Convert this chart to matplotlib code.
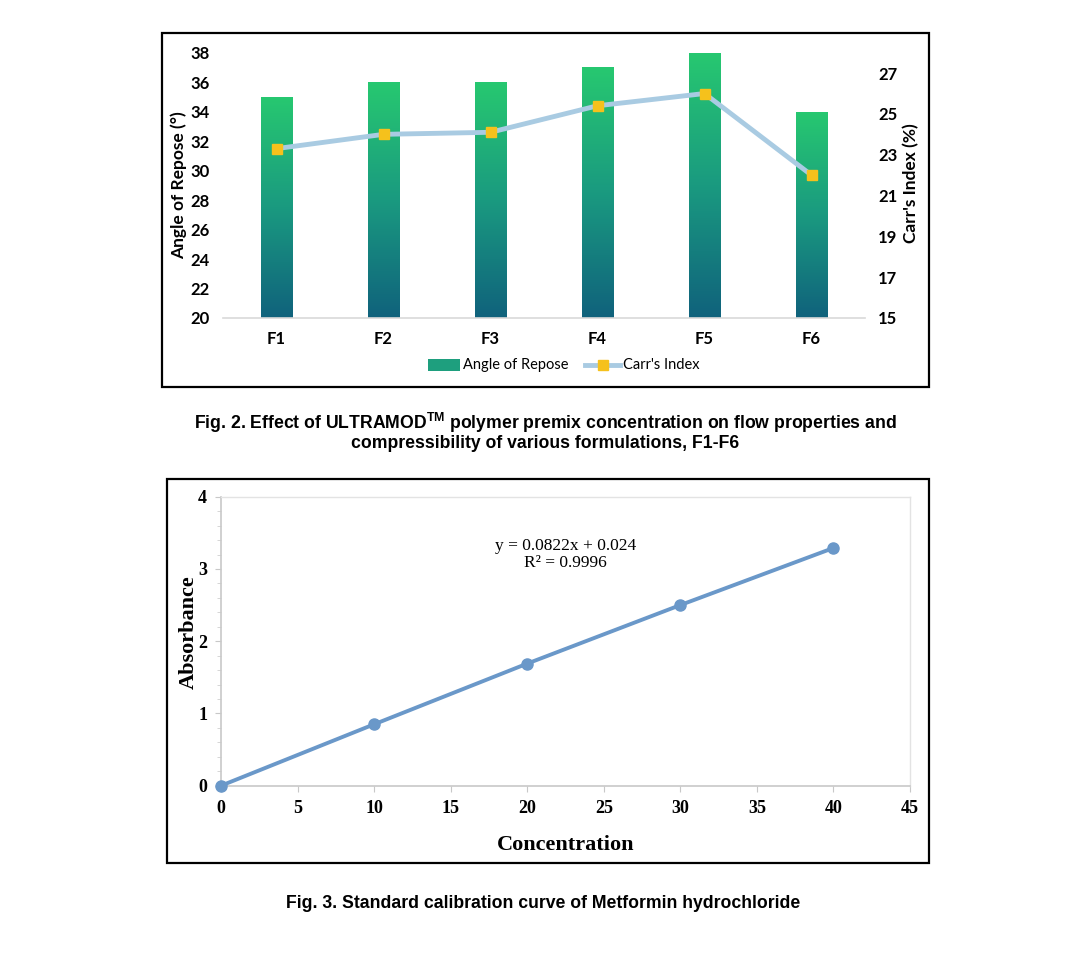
import matplotlib
matplotlib.use("Agg")
import matplotlib.pyplot as plt
import numpy as np
from matplotlib.patches import Rectangle
from matplotlib.lines import Line2D
from matplotlib.colors import LinearSegmentedColormap
from matplotlib.ticker import MultipleLocator

# ---------------- data ----------------
formulations = ["F1", "F2", "F3", "F4", "F5", "F6"]
angle_of_repose = [35, 36, 36, 37, 38, 34]
carrs_index = [23.3, 24.0, 24.1, 25.4, 26.0, 22.0]
left_ticks = [20, 22, 24, 26, 28, 30, 32, 34, 36, 38]
right_ticks = [15, 17, 19, 21, 23, 25, 27]

concentration = [0, 10, 20, 30, 40]
absorbance = [0.0, 0.85, 1.69, 2.50, 3.29]
x_ticks = [0, 5, 10, 15, 20, 25, 30, 35, 40, 45]
y_ticks = [0, 1, 2, 3, 4]

W, H = 1079, 976
fig = plt.figure(figsize=(W / 100, H / 100), dpi=100)

def fx(px):
    return px / W

def fy(py):
    return 1 - py / H

# frames
fig.add_artist(Rectangle((fx(162), fy(387)), fx(929) - fx(162), fy(33) - fy(387),
                         transform=fig.transFigure, fill=False, lw=1.6, ec="black"))
fig.add_artist(Rectangle((fx(167), fy(863)), fx(929) - fx(167), fy(479) - fy(863),
                         transform=fig.transFigure, fill=False, lw=1.6, ec="black"))

# ---------------- Fig 2 ----------------
sans = ["Lato", "DejaVu Sans"]
ax = fig.add_axes([fx(223), fy(318), fx(865) - fx(223), fy(52.7) - fy(318)])
x = np.arange(len(formulations))
bars = ax.bar(x, angle_of_repose, width=0.29, color="none", edgecolor="none", zorder=2)
cmap = LinearSegmentedColormap.from_list("g", ["#10627C", "#1A9A80", "#27C870"])
grad = np.linspace(0, 1, 256).reshape(-1, 1)
for b in bars:
    x0 = b.get_x()
    x1 = x0 + b.get_width()
    y1 = b.get_height()
    im = ax.imshow(grad, cmap=cmap, origin="lower", aspect="auto",
                   extent=[x0, x1, left_ticks[0], y1], zorder=2)
    im.set_clip_path(b)
ax.set_xlim(-0.5, len(formulations) - 0.5)
ax.set_ylim(left_ticks[0], left_ticks[-1])
ax.set_yticks(left_ticks)
ax.set_xticks(x)
ax.set_xticklabels(formulations)
for s in ["top", "right", "left"]:
    ax.spines[s].set_visible(False)
ax.spines["bottom"].set_color("#D9D9D9")
ax.spines["bottom"].set_linewidth(1.2)
ax.tick_params(axis="both", length=0, labelsize=12)
ax.tick_params(axis="x", pad=9)
ax.tick_params(axis="y", pad=9.5)
for lab in ax.get_xticklabels() + ax.get_yticklabels():
    lab.set_family(sans)
    lab.set_fontweight("bold")
ax.set_ylabel("Angle of Repose (°)", fontsize=12.5, fontweight="bold", family=sans)
ax.yaxis.set_label_coords((187 - 223) / 642, 0.5)

ax2 = ax.twinx()
ax2.plot(x, carrs_index, color="#A9CBE2", lw=3.5, marker="s", markersize=7,
         markerfacecolor="#F5C11C", markeredgecolor="#F5C11C", zorder=3)
ax2.set_ylim(15, 28)
ax2.set_yticks(right_ticks)
for s in ["top", "right", "left", "bottom"]:
    ax2.spines[s].set_visible(False)
ax2.tick_params(axis="y", length=0, labelsize=12, pad=9.4)
for lab in ax2.get_yticklabels():
    lab.set_family(sans)
    lab.set_fontweight("bold")
ax2.set_ylabel("Carr's Index (%)", fontsize=12.5, fontweight="bold", family=sans)
ax2.yaxis.set_label_coords((903 - 223) / 642, 0.51)

# legend
lx = fx(428)
ly = fy(365)
fig.add_artist(Rectangle((lx, ly - 0.006), fx(32), 0.012, transform=fig.transFigure,
                         facecolor="#1E9F7E", edgecolor="none"))
fig.text(fx(463), ly, "Angle of Repose", fontsize=10.5, family=sans, va="center", ha="left")
fig.add_artist(Line2D([fx(585), fx(620)], [ly, ly], transform=fig.transFigure,
                      color="#A9CBE2", lw=3.5))
fig.add_artist(Line2D([fx(602.5)], [ly], transform=fig.transFigure, marker="s",
                      markersize=7, color="#F5C11C"))
fig.text(fx(623), ly, "Carr's Index", fontsize=10.5, family=sans, va="center", ha="left")

cap_font = ["Liberation Sans", "DejaVu Sans"]
fig.text(fx(545), fy(423), "Fig. 2. Effect of ULTRAMOD$^{\\mathregular{TM}}$ polymer premix concentration on flow properties and",
         ha="center", va="center", fontsize=12.7, fontweight="bold", family=cap_font)
fig.text(fx(545), fy(443), "compressibility of various formulations, F1-F6",
         ha="center", va="center", fontsize=12.7, fontweight="bold", family=cap_font)

# ---------------- Fig 3 ----------------
serif = ["Liberation Serif", "DejaVu Serif"]
bx = fig.add_axes([fx(221), fy(785.7), fx(910) - fx(221), fy(496.7) - fy(785.7)])
bx.plot(concentration, absorbance, color="#6A98C9", lw=2.8, marker="o", markersize=8,
        markerfacecolor="#6A98C9", markeredgecolor="#6A98C9", clip_on=False, zorder=3)
bx.set_xlim(x_ticks[0], x_ticks[-1])
bx.set_ylim(y_ticks[0], y_ticks[-1])
bx.set_xticks(x_ticks)
bx.set_yticks(y_ticks)
bx.yaxis.set_minor_locator(MultipleLocator(0.2))
for s in ["top", "right"]:
    bx.spines[s].set_color("#E3E3E3")
    bx.spines[s].set_linewidth(1.0)
for s in ["left", "bottom"]:
    bx.spines[s].set_color("#C8C8C8")
    bx.spines[s].set_linewidth(1.2)
bx.tick_params(axis="both", which="major", length=4, color="#C8C8C8", labelsize=13, pad=6)
bx.tick_params(axis="y", which="minor", length=3, color="#D0D0D0")
for lab in bx.get_xticklabels() + bx.get_yticklabels():
    lab.set_family(serif)
    lab.set_fontweight("bold")
bx.set_xlabel("Concentration", fontsize=16, fontweight="bold", family=serif, labelpad=13)
bx.set_ylabel("Absorbance", fontsize=16, fontweight="bold", family=serif)
bx.yaxis.set_label_coords((199 - 221) / 689, 0.53)
bx.text(0.5, 0.80, "y = 0.0822x + 0.024\nR² = 0.9996", transform=bx.transAxes,
        ha="center", va="center", fontsize=12.5, family=serif, linespacing=1.1)

fig.text(fx(543), fy(903), "Fig. 3. Standard calibration curve of Metformin hydrochloride",
         ha="center", va="center", fontsize=12.7, fontweight="bold", family=cap_font)

fig.savefig("out.png", dpi=100)
